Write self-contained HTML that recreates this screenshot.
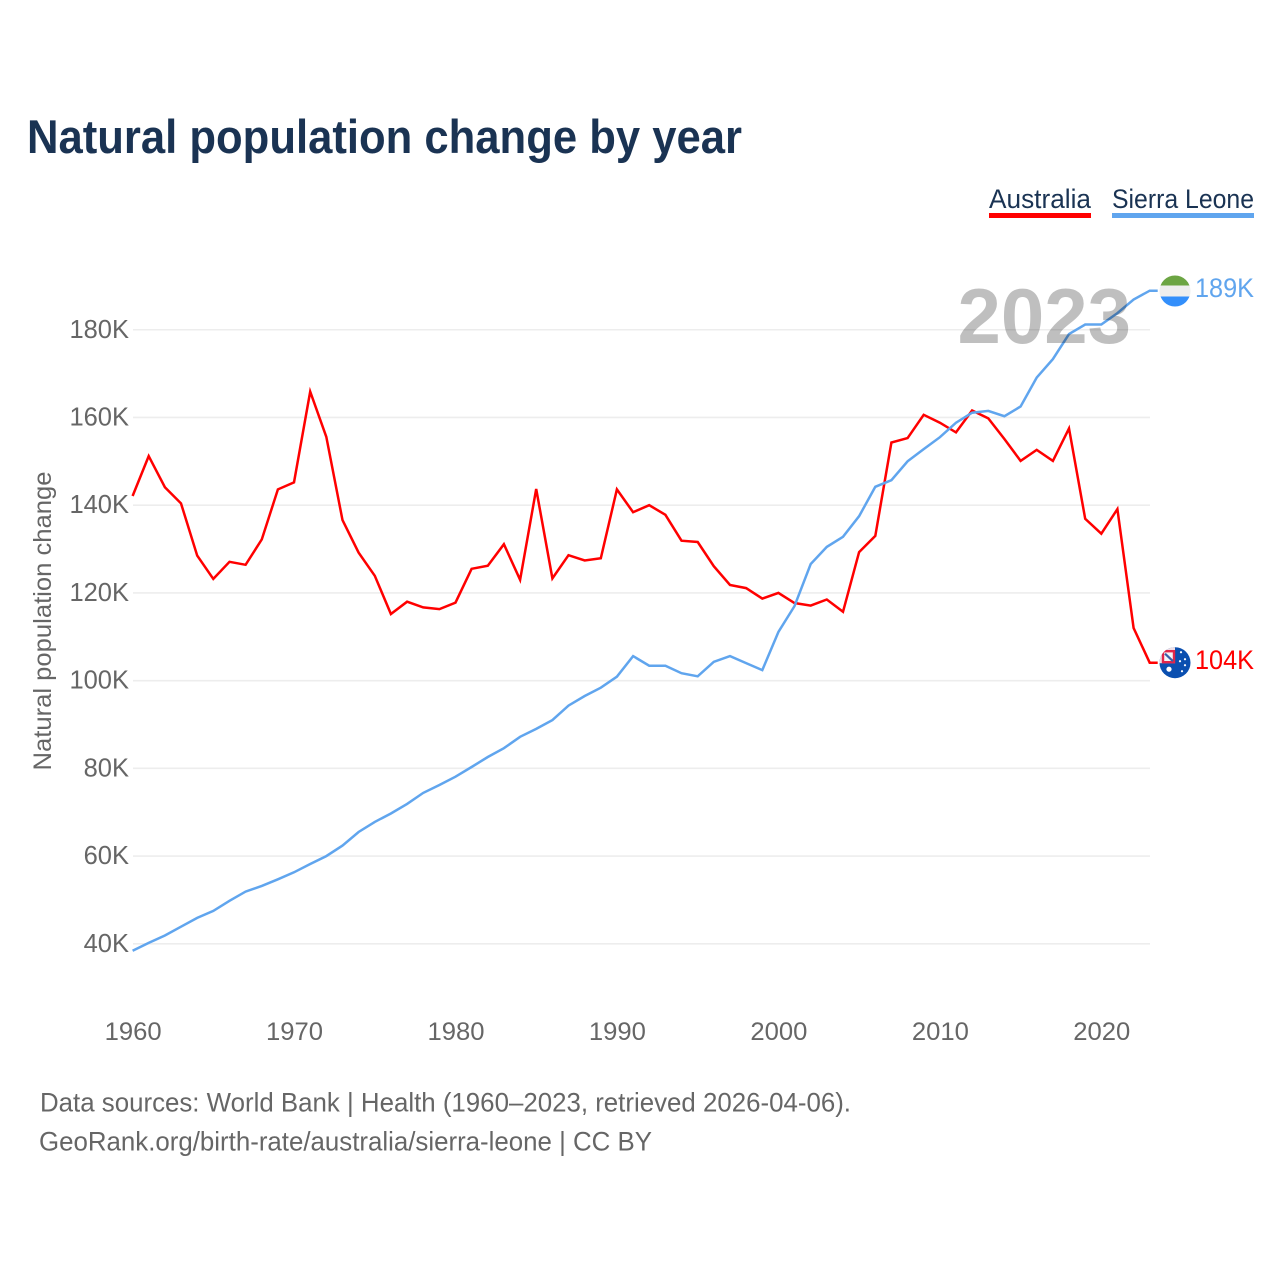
<!DOCTYPE html>
<html lang="en">
<head>
<meta charset="utf-8">
<title>Natural population change by year</title>
<style>
html,body{margin:0;padding:0;background:#fff;width:1280px;height:1280px;overflow:hidden}
svg{display:block}
text{font-family:"Liberation Sans",sans-serif}
</style>
</head>
<body>
<svg id="chart" xmlns="http://www.w3.org/2000/svg" width="1280" height="1280" viewBox="0 0 1280 1280">
  <rect width="1280" height="1280" fill="#fff"/>
  <text x="27" y="153" font-size="47" font-weight="700" fill="#1a3353" textLength="715" lengthAdjust="spacingAndGlyphs">Natural population change by year</text>

  <g>
    <g>
      <text x="989" y="208" font-size="27" fill="#1a3353" textLength="102" lengthAdjust="spacingAndGlyphs">Australia</text>
      <rect x="989" y="213" width="102" height="5" fill="#ff0000"/>
    </g>
    <g>
      <text x="1112" y="208" font-size="27" fill="#1a3353" textLength="142" lengthAdjust="spacingAndGlyphs">Sierra Leone</text>
      <rect x="1112" y="213" width="142" height="5" fill="#60a5ee"/>
    </g>
  </g>

  <text transform="translate(51 770.5) rotate(-90)" font-size="25" fill="#666" textLength="299" lengthAdjust="spacingAndGlyphs">Natural population change</text>

  <g id="grid"></g>
  <g id="yticks"></g>
  <g id="xticks"></g>
  <g id="series"></g>

  <text x="1131" y="343" text-anchor="end" font-size="78" font-weight="700" fill="#000" fill-opacity="0.25">2023</text>

  <defs>
    <clipPath id="clip-sl"><circle cx="1175" cy="290.5" r="15.5"/></clipPath>
    <clipPath id="clip-au"><circle cx="1175" cy="662.5" r="15.5"/></clipPath>
  </defs>

  <g id="flag-sl" clip-path="url(#clip-sl)">
    <rect x="1159" y="274" width="32" height="11" fill="#6ca543"/>
    <rect x="1159" y="285" width="32" height="11" fill="#eeeeee"/>
    <rect x="1159" y="296" width="32" height="11" fill="#338ffb"/>
  </g>

  <g id="flag-au" clip-path="url(#clip-au)">
    <rect x="1159" y="646" width="32" height="33" fill="#0a4fb0"/>
    <rect x="1159" y="646" width="16" height="17" fill="#f0dfe6"/>
    <rect x="1163" y="651" width="11" height="11" fill="#f4f4f8" stroke="#e2264a" stroke-width="2.4"/>
    <path d="M1165 653.5L1173 661" stroke="#3a5fa8" stroke-width="2.2" fill="none"/>
    <circle cx="1169" cy="669" r="2.6" fill="#fff"/>
    <circle cx="1180" cy="661" r="1.1" fill="#fff"/>
    <circle cx="1185" cy="659" r="1.1" fill="#fff"/>
    <circle cx="1185" cy="665" r="1.1" fill="#fff"/>
    <circle cx="1182" cy="671" r="1.1" fill="#fff"/>
    <circle cx="1181" cy="652" r="1.1" fill="#fff"/>
  </g>

  <text id="value-sl" x="1195" y="297" font-size="27" fill="#60a5ee" textLength="59" lengthAdjust="spacingAndGlyphs"></text>
  <text id="value-au" x="1195" y="669" font-size="27" fill="#ff0000" textLength="59" lengthAdjust="spacingAndGlyphs"></text>

  <text x="40" y="1111.5" font-size="27" fill="#666" textLength="811" lengthAdjust="spacingAndGlyphs">Data sources: World Bank | Health (1960–2023, retrieved 2026-04-06).</text>
  <text x="39" y="1150.5" font-size="27" fill="#666" textLength="613" lengthAdjust="spacingAndGlyphs">GeoRank.org/birth-rate/australia/sierra-leone | CC BY</text>
</svg>

<script>
const startYear = 1960;
const xTickYears = [1960, 1970, 1980, 1990, 2000, 2010, 2020];
const yTickValues = [40, 60, 80, 100, 120, 140, 160, 180];
const australia = [142.1,151.2,144.1,140.4,128.5,123.2,127.1,126.4,132.2,143.6,145.2,165.9,155.6,136.6,129.2,123.9,115.2,118.0,116.7,116.3,117.8,125.5,126.2,131.1,123.0,143.7,123.3,128.6,127.4,127.9,143.6,138.4,140.0,137.8,131.9,131.6,126.1,121.8,121.1,118.7,120.0,117.7,117.1,118.5,115.7,129.3,133.0,154.3,155.3,160.6,158.8,156.6,161.6,159.8,155.1,150.1,152.6,150.1,157.5,136.9,133.5,139.1,112.0,104.1];
const sierraLeone = [38.4,40.2,41.9,43.9,45.9,47.5,49.8,51.9,53.2,54.7,56.3,58.2,60.0,62.4,65.5,67.8,69.7,71.9,74.4,76.2,78.1,80.3,82.6,84.6,87.2,89.0,91.0,94.3,96.5,98.4,100.9,105.6,103.4,103.4,101.7,101.0,104.3,105.6,104.0,102.4,111.1,117.0,126.6,130.5,132.8,137.5,144.2,145.7,150.0,152.8,155.5,158.8,161.1,161.5,160.3,162.5,169.1,173.3,179.0,181.2,181.2,183.8,186.9,188.9];

const NS = 'http://www.w3.org/2000/svg';
function xScale(year) { return 132.6 + (year - 1960) * 16.145; }
function yScale(v) { return 943.8 - (v - 40) * 4.386; }
function make(tag, attrs, parent) {
  const el = document.createElementNS(NS, tag);
  for (const k in attrs) el.setAttribute(k, attrs[k]);
  parent.appendChild(el);
  return el;
}

const gridG = document.getElementById('grid');
const yG = document.getElementById('yticks');
const xG = document.getElementById('xticks');
const seriesG = document.getElementById('series');

yTickValues.forEach(function (v) {
  const line = make('line', { x1: 133, x2: 1150, y1: yScale(v), y2: yScale(v), stroke: '#ededed', 'stroke-width': 1.6 }, gridG);
  
  
  const t = make('text', { x: 129, y: yScale(v) + 8, 'font-size': 25.5, fill: '#666', 'text-anchor': 'end' }, yG);
  
  
  t.textContent = v + 'K';
});

xTickYears.forEach(function (yr) {
  const t = make('text', { x: xScale(yr) - 28, y: 1040, 'font-size': 25, fill: '#666', textLength: 57, lengthAdjust: 'spacingAndGlyphs' }, xG);
  
  
  t.textContent = yr;
});

function drawSeries(values, color) {
  const pts = values.map(function (v, i) {
    return xScale(startYear + i).toFixed(1) + ',' + yScale(v).toFixed(1);
  });
  const lastYear = startYear + values.length - 1;
  pts.push((xScale(lastYear) + 8).toFixed(1) + ',' + yScale(values[values.length - 1]).toFixed(1));
  return make('polyline', { points: pts.join(' '), fill: 'none', stroke: color, 'stroke-width': 2.5, 'stroke-linejoin': 'miter' }, seriesG);
}

const redLine = drawSeries(australia, '#ff0000');


const blueLine = drawSeries(sierraLeone, '#60a5ee');



const lastAu = australia[australia.length - 1];
const lastSl = sierraLeone[sierraLeone.length - 1];
const auY = yScale(lastAu);
const slY = yScale(lastSl);
const valueAu = document.getElementById('value-au');
const valueSl = document.getElementById('value-sl');
valueAu.textContent = Math.round(lastAu) + 'K';
valueSl.textContent = Math.round(lastSl) + 'K';
valueAu.setAttribute('y', (auY + 6.5).toFixed(1));
valueSl.setAttribute('y', (slY + 6.5).toFixed(1));
document.getElementById('flag-au').setAttribute('transform', 'translate(0 ' + (auY - 662.5).toFixed(1) + ')');
document.getElementById('flag-sl').setAttribute('transform', 'translate(0 ' + (slY - 290.2).toFixed(1) + ')');
</script>
</body>
</html>
